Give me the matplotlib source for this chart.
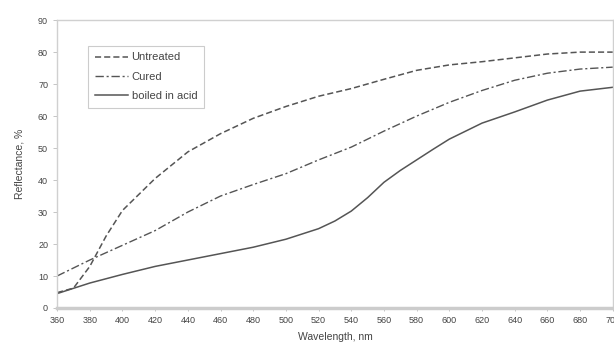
import matplotlib.pyplot as plt

plt.rcParams['font.family'] = ['Liberation Sans', 'DejaVu Sans']

# wavelength, nm
wl_untreated = [360, 370, 380, 390, 400, 420, 440, 460, 480, 500, 520, 540, 560, 580, 600, 620, 640, 660, 680, 700]
untreated = [4.8, 6.2, 13.0, 22.5, 30.5, 40.5, 48.8, 54.5, 59.3, 63.0, 66.2, 68.6, 71.5, 74.3, 76.0, 77.0, 78.2, 79.4, 80.0, 80.0]

wl_cured = [360, 380, 400, 420, 440, 460, 480, 500, 520, 540, 560, 580, 600, 620, 640, 660, 680, 700]
cured = [10.0, 15.0, 19.6, 24.2, 30.0, 35.0, 38.6, 42.0, 46.3, 50.3, 55.3, 60.0, 64.3, 68.0, 71.2, 73.4, 74.7, 75.3]

wl_boiled = [360, 380, 400, 420, 440, 460, 480, 500, 520, 530, 540, 550, 560, 570, 580, 590, 600, 620, 640, 660, 680, 700]
boiled = [4.5, 7.8, 10.5, 13.0, 15.0, 17.0, 19.0, 21.5, 24.8, 27.2, 30.3, 34.5, 39.3, 43.0, 46.3, 49.6, 52.8, 57.8, 61.3, 65.0, 67.8, 69.0]

xticks = list(range(360, 701, 20))
yticks = list(range(0, 91, 10))

fig = plt.figure(figsize=(6.14, 3.53), dpi=100)
ax = fig.add_axes([0.093, 0.1275, 0.905, 0.8155])

c = '#555555'
ax.plot(wl_untreated, untreated, color=c, lw=1.1, ls=(0, (4, 2)), label='Untreated')
ax.plot(wl_cured, cured, color=c, lw=1.0, ls=(0, (6, 2, 1.5, 2)), label='Cured')
ax.plot(wl_boiled, boiled, color=c, lw=1.1, ls='-', label='boiled in acid')

ax.set_xlim(360, 700)
ax.set_ylim(0, 90)
ax.set_xticks(xticks)
ax.set_yticks(yticks)
ax.tick_params(labelsize=6.5, colors='#444444', length=3, width=0.6)
ax.tick_params(axis='x', length=2, color='#bbbbbb')
ax.tick_params(axis='y', color='#bbbbbb')

for s in ['top', 'right', 'left']:
    ax.spines[s].set_color('#d0d0d0')
    ax.spines[s].set_linewidth(1.0)
ax.spines['bottom'].set_color('#cccccc')
ax.spines['bottom'].set_linewidth(2.5)

ax.set_xlabel('Wavelength, nm', fontsize=7.5, color='#444444', labelpad=5)
ax.set_ylabel('Reflectance, %', fontsize=7.5, color='#444444', labelpad=10)

leg = ax.legend(loc='upper left', bbox_to_anchor=(0.046, 0.93), fontsize=8,
                fancybox=False, framealpha=1, edgecolor='#cccccc',
                handlelength=3.0, handletextpad=0.3, labelspacing=0.85,
                borderpad=0.6, labelcolor='#444444')
leg.get_frame().set_linewidth(0.8)

fig.savefig('out.png', dpi=100)
